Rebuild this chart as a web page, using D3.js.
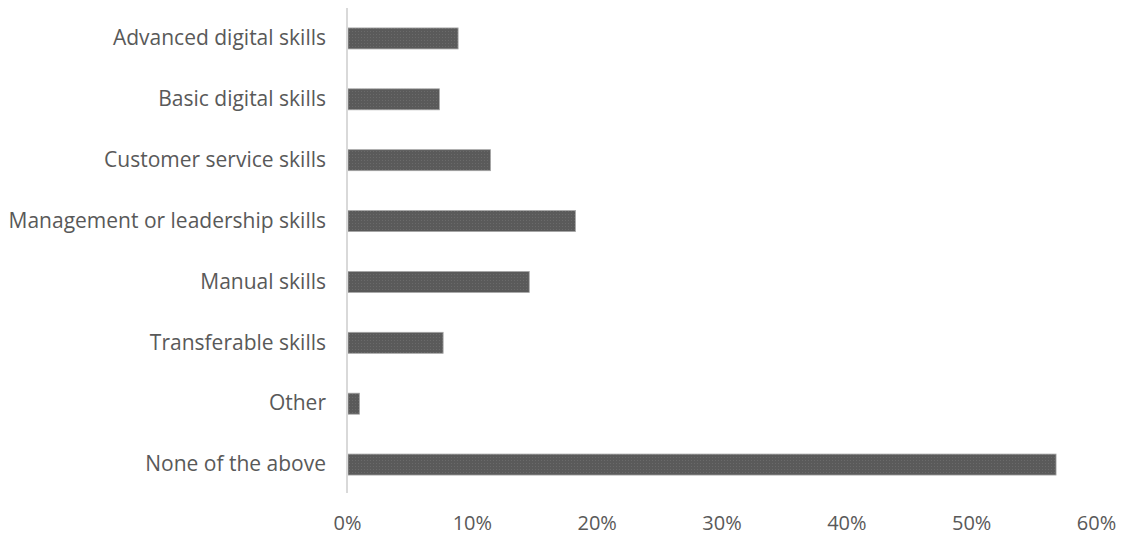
<!DOCTYPE html>
<html>
<head>
<meta charset="utf-8">
<script src="https://cdn.jsdelivr.net/npm/d3@7"></script>
<style>
  html, body { margin: 0; padding: 0; background: #ffffff; }
  svg { display: block; }
  text { font-family: "Open Sans", Lato, "Liberation Sans", sans-serif; fill: #595959; }
</style>
</head>
<body>
<svg id="chart" width="1125" height="537"></svg>
<script>
// Skills categories and the share of respondents choosing each
const categories = [
  "Advanced digital skills",
  "Basic digital skills",
  "Customer service skills",
  "Management or leadership skills",
  "Manual skills",
  "Transferable skills",
  "Other",
  "None of the above"
];
const values = [0.089, 0.074, 0.115, 0.183, 0.146, 0.077, 0.010, 0.568];
const tickValues = [0, 0.1, 0.2, 0.3, 0.4, 0.5, 0.6];

const svg = d3.select("#chart");
const plotLeft = 347, plotRight = 1096, plotTop = 8, plotBottom = 495;

const x = d3.scaleLinear().domain([0, 0.6]).range([plotLeft, plotRight]);
const y = d3.scaleBand().domain(categories).range([plotTop, plotBottom])
  .paddingInner(0.655).paddingOuter(0.3275);

// Dotted texture used for the bar fill
const defs = svg.append("defs");
const pat = defs.append("pattern")
  .attr("id", "dots").attr("patternUnits", "userSpaceOnUse")
  .attr("width", 3).attr("height", 3);
pat.append("rect").attr("width", 3).attr("height", 3).attr("fill", "#5a5a5a");
pat.append("rect").attr("x", 1).attr("y", 1).attr("width", 1).attr("height", 1).attr("fill", "#6a6a6a");

// Bars
svg.append("g").selectAll("rect")
  .data(categories)
  .join("rect")
  .attr("x", x(0) + 1)
  .attr("y", d => y(d))
  .attr("width", (d, i) => x(values[i]) - x(0) - 1)
  .attr("height", y.bandwidth())
  .attr("fill", "url(#dots)")
  .attr("stroke", "#a6a6a6")
  .attr("stroke-width", 0.8);

// Vertical category axis line
svg.append("line")
  .attr("x1", plotLeft).attr("x2", plotLeft)
  .attr("y1", plotTop).attr("y2", plotBottom - 2)
  .attr("stroke", "#d9d9d9").attr("stroke-width", 2);

// Category labels
const yAxis = d3.axisLeft(y).tickSize(0).tickPadding(21);
const gy = svg.append("g").attr("transform", `translate(${plotLeft},0)`).call(yAxis);
gy.select(".domain").remove();
gy.selectAll("text").style("font-size", "21px").attr("fill", "#595959");

// Percentage tick labels
const xAxis = d3.axisBottom(x).tickValues(tickValues).tickFormat(d3.format(".0%")).tickSize(0).tickPadding(0);
const gx = svg.append("g").attr("transform", "translate(0,516)").call(xAxis);
gx.select(".domain").remove();
gx.selectAll("text").style("font-size", "20px").attr("fill", "#595959");
</script>
</body>
</html>
